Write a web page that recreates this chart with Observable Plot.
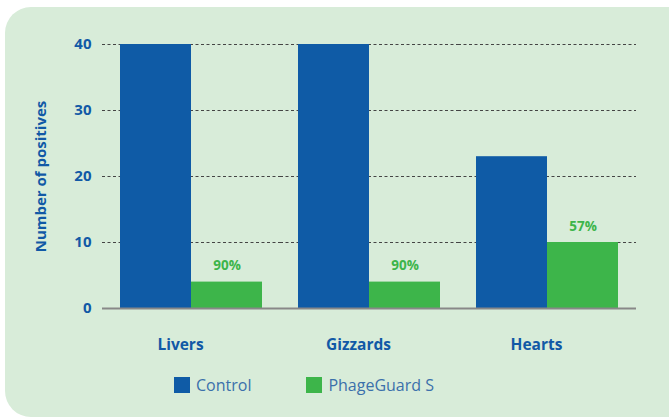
<!DOCTYPE html>
<html><head><meta charset="utf-8">
<script src="https://cdn.jsdelivr.net/npm/d3@7"></script>
<script src="https://cdn.jsdelivr.net/npm/@observablehq/plot@0.6"></script>
<style>
body{margin:0;background:#fff;font-family:"Open Sans",Lato,sans-serif;}
#wrap{position:relative;width:669px;height:419px;overflow:hidden;}
#panel{position:absolute;left:5px;top:7px;width:700px;height:410px;background:#d8ecd9;border-radius:26px;}
#chart{position:absolute;left:0;top:0;}
#legend{position:absolute;top:374px;left:174px;display:flex;font-size:16px;color:#3b70ab;}
.item{display:flex;align-items:center;}
.sw{width:16px;height:16px;margin-right:6px;}
</style></head>
<body><div id="wrap"><div id="panel"></div><div id="chart"></div>
<div id="legend"></div></div>
<script>
const categories = ["Livers","Gizzards","Hearts"];
const series = ["Control","PhageGuard S"];
const controlValues = [40,40,23];
const phageValues = [4,4,10];
const reductionLabels = ["90%","90%","57%"];
const colors = ["#0f5ba6","#3db54a"];

const data = [];
categories.forEach((c,i)=>{
  data.push({cat:c, s:series[0], v:controlValues[i], lab:""});
  data.push({cat:c, s:series[1], v:phageValues[i], lab:reductionLabels[i]});
});

const blue="#1159a6";
const font="'Open Sans', Lato, sans-serif";
const chart = Plot.plot({
  width:669, height:360,
  marginTop:44, marginBottom:52, marginLeft:102, marginRight:33,
  style:{background:"transparent", fontFamily:font, fontWeight:"bold", color:blue},
  fx:{domain:categories, padding:0, label:null},
  x:{domain:series, paddingInner:0, paddingOuter:0.245, axis:null},
  y:{domain:[0,40], label:null},
  color:{domain:series, range:colors},
  marks:[
    Plot.ruleY([10,20,30,40],{stroke:"#444", strokeDasharray:"3,2.5", strokeWidth:1}),
    Plot.barY(data,{fx:"cat", x:"s", y:"v", fill:"s"}),
    Plot.ruleY([0],{stroke:"#888", strokeWidth:2}),
    Plot.text(data.filter(d=>d.lab),{fx:"cat", x:"s", y:"v", text:"lab", dy:-16, fill:"#3db54a", fontSize:13.5, fontWeight:"bold"}),
    Plot.axisY({ticks:[0,10,20,30,40], tickSize:0, tickPadding:11, fontSize:15, fontWeight:"bold", fill:blue, label:null}),
    Plot.axisY({ticks:[], tickSize:0, text:null, fontSize:15, fontWeight:"bold", fill:blue,
      label:"Number of positives", labelAnchor:"center", labelOffset:67, labelArrow:"none"}),
    Plot.axisFx({anchor:"bottom", tickSize:0, tickPadding:30, dx:-11, label:null, fontSize:15.5, fontWeight:"bold", fill:blue})
  ]
});
document.getElementById("chart").append(chart);

const lg=document.getElementById("legend");
series.forEach((s,i)=>{
  const it=document.createElement("div"); it.className="item";
  it.style.marginRight = i===0 ? "55px":"0";
  it.innerHTML=`<span class="sw" style="background:${colors[i]}"></span><span>${s}</span>`;
  lg.append(it);
});
</script></body></html>
